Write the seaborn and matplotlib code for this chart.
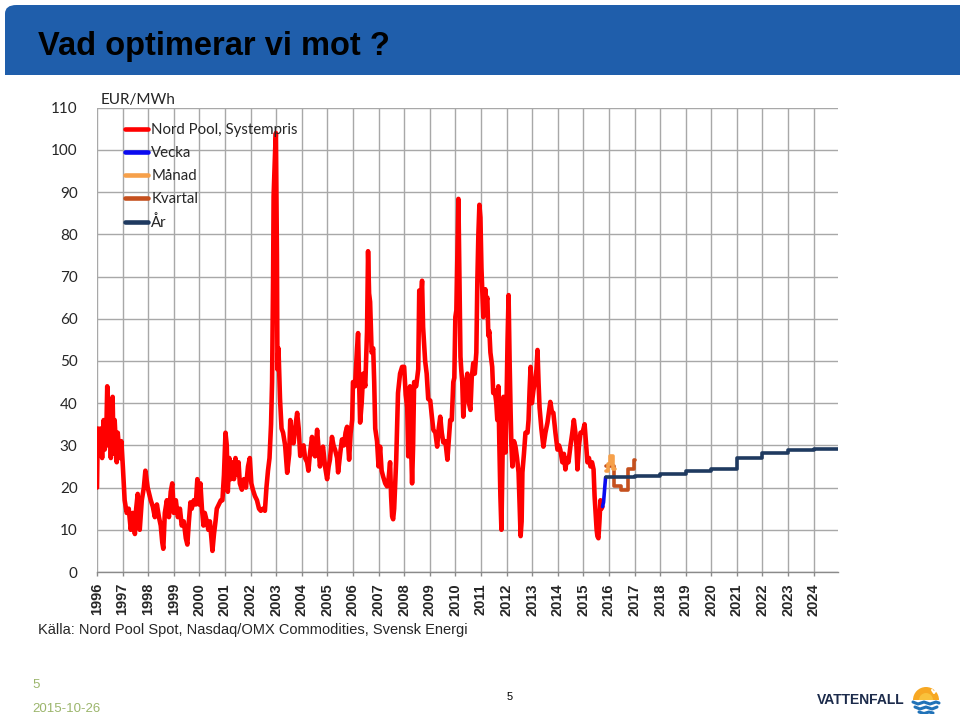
import matplotlib
matplotlib.use("Agg")
import matplotlib.pyplot as plt
import seaborn as sns
from matplotlib.patches import FancyBboxPatch, Rectangle, Wedge
from matplotlib.lines import Line2D

# Nord Pool system price (EUR/MWh)
spot_year = [
    1996.00, 1996.03, 1996.10, 1996.14, 1996.20, 1996.26, 1996.30, 1996.36, 1996.40, 1996.44,
    1996.50, 1996.54, 1996.61, 1996.65, 1996.69, 1996.77, 1996.81, 1996.89, 1996.95, 1997.01,
    1997.08, 1997.16, 1997.24, 1997.32, 1997.40, 1997.48, 1997.53, 1997.59, 1997.67, 1997.75,
    1997.83, 1997.89, 1997.98, 1998.10, 1998.18, 1998.26, 1998.34, 1998.42, 1998.49, 1998.55,
    1998.59, 1998.65, 1998.73, 1998.81, 1998.88, 1998.94, 1999.00, 1999.08, 1999.16, 1999.24,
    1999.31, 1999.39, 1999.47, 1999.53, 1999.59, 1999.65, 1999.70, 1999.78, 1999.86, 1999.92,
    1999.98, 2000.04, 2000.10, 2000.16, 2000.21, 2000.29, 2000.35, 2000.41, 2000.47, 2000.51,
    2000.57, 2000.63, 2000.68, 2000.76, 2000.84, 2000.90, 2000.96, 2001.02, 2001.07, 2001.11,
    2001.17, 2001.23, 2001.29, 2001.35, 2001.41, 2001.47, 2001.53, 2001.58, 2001.66, 2001.74,
    2001.82, 2001.90, 2001.97, 2002.03, 2002.09, 2002.17, 2002.25, 2002.33, 2002.40, 2002.48,
    2002.56, 2002.62, 2002.68, 2002.74, 2002.80, 2002.84, 2002.88, 2002.90, 2002.96, 2002.99,
    2003.03, 2003.05, 2003.09, 2003.15, 2003.21, 2003.27, 2003.35, 2003.43, 2003.51, 2003.55,
    2003.63, 2003.68, 2003.74, 2003.82, 2003.88, 2003.94, 2004.02, 2004.07, 2004.13, 2004.21,
    2004.26, 2004.32, 2004.40, 2004.46, 2004.52, 2004.60, 2004.66, 2004.71, 2004.77, 2004.83,
    2004.91, 2004.99, 2005.05, 2005.10, 2005.18, 2005.24, 2005.30, 2005.38, 2005.42, 2005.50,
    2005.57, 2005.65, 2005.71, 2005.77, 2005.85, 2005.91, 2005.97, 2006.00, 2006.08, 2006.16,
    2006.20, 2006.24, 2006.28, 2006.34, 2006.40, 2006.48, 2006.55, 2006.59, 2006.63, 2006.67,
    2006.73, 2006.79, 2006.83, 2006.87, 2006.94, 2007.00, 2007.06, 2007.12, 2007.18, 2007.26,
    2007.33, 2007.39, 2007.45, 2007.49, 2007.53, 2007.57, 2007.61, 2007.69, 2007.76, 2007.84,
    2007.92, 2008.00, 2008.06, 2008.12, 2008.16, 2008.20, 2008.23, 2008.27, 2008.31, 2008.35,
    2008.39, 2008.47, 2008.55, 2008.59, 2008.65, 2008.70, 2008.74, 2008.82, 2008.88, 2008.94,
    2009.02, 2009.08, 2009.14, 2009.22, 2009.29, 2009.35, 2009.41, 2009.47, 2009.53, 2009.61,
    2009.69, 2009.74, 2009.80, 2009.86, 2009.92, 2009.96, 2010.00, 2010.04, 2010.08, 2010.12,
    2010.16, 2010.20, 2010.23, 2010.27, 2010.31, 2010.39, 2010.47, 2010.53, 2010.59, 2010.64,
    2010.70, 2010.76, 2010.82, 2010.86, 2010.90, 2010.94, 2010.98, 2011.02, 2011.05, 2011.09,
    2011.13, 2011.17, 2011.21, 2011.25, 2011.29, 2011.33, 2011.37, 2011.41, 2011.44, 2011.48,
    2011.54, 2011.60, 2011.64, 2011.68, 2011.72, 2011.76, 2011.80, 2011.84, 2011.88, 2011.92,
    2011.96, 2012.00, 2012.04, 2012.08, 2012.12, 2012.16, 2012.19, 2012.23, 2012.29, 2012.35,
    2012.41, 2012.47, 2012.51, 2012.55, 2012.59, 2012.62, 2012.68, 2012.74, 2012.82, 2012.86,
    2012.90, 2012.94, 2012.99, 2013.05, 2013.13, 2013.17, 2013.21, 2013.25, 2013.29, 2013.36,
    2013.44, 2013.52, 2013.60, 2013.66, 2013.71, 2013.77, 2013.83, 2013.91, 2013.99, 2014.05,
    2014.10, 2014.18, 2014.24, 2014.30, 2014.36, 2014.42, 2014.50, 2014.57, 2014.63, 2014.69,
    2014.73, 2014.77, 2014.83, 2014.89, 2014.97, 2015.05, 2015.11, 2015.16, 2015.22, 2015.28,
    2015.34, 2015.40, 2015.44, 2015.48, 2015.52, 2015.55, 2015.59, 2015.63, 2015.67, 2015.71,
    2015.75,
]
spot_price = [
    20, 34, 28, 34, 27, 36, 29, 32, 44, 30,
    35, 27, 41.5, 28, 36, 26, 33, 27, 31, 25,
    17, 14, 15, 10, 14, 9, 15, 18.5, 10, 17,
    20, 24, 20, 17, 15.5, 13, 16, 13, 11, 7,
    5.5, 14, 17, 13, 19, 21, 14, 17, 13, 15,
    11, 12, 8, 6.5, 12, 16.5, 15, 17, 16, 22,
    16, 21, 15, 11, 14, 12, 10, 12, 8, 5,
    9, 12, 15, 16, 17, 17, 23, 33, 30, 19,
    27, 22, 26, 22, 27, 23, 26, 21, 19.5, 22,
    20, 25, 27, 21, 19.5, 18, 17, 15, 14.5, 15,
    14.5, 20, 24, 27, 35, 45, 70, 89, 100, 104,
    75, 48, 53, 41, 34, 33, 30, 23.5, 28, 36,
    31, 30.5, 34, 37.7, 34, 27.5, 29, 30, 27, 26,
    24, 28, 32, 28, 27.4, 33.7, 29, 25, 28, 29.7,
    25, 22, 25, 26.6, 32, 30, 29, 27, 23.6, 28,
    31.4, 30, 33, 34.4, 26.6, 33, 36, 45, 44, 53,
    56.6, 45, 35.4, 40, 47, 44, 57, 76, 66, 64,
    52, 53, 45, 34, 31, 25, 29.7, 24, 22.6, 21,
    20.3, 22, 26, 18, 13.2, 12.5, 15, 26.6, 42.4, 47,
    48.6, 48.6, 42, 39, 27.4, 35, 44, 30, 21, 30,
    45, 44, 48, 66.7, 64, 69, 58, 50, 47, 41,
    40.6, 37, 33.7, 33, 29.7, 34, 36.8, 33, 30.7, 31,
    26.6, 31, 36, 36, 45, 46, 60.4, 62, 75, 88.4,
    70, 51, 48, 45, 36.8, 44, 47, 40, 38.4, 46,
    49.5, 47, 52, 69, 80, 87, 84, 72, 66.7, 60.4,
    64, 67, 64, 65, 56, 57, 52, 50, 48.6, 42.4,
    43, 40, 36, 44, 30, 18, 10, 25, 41.5, 35,
    28.3, 40, 55, 65.6, 50, 37.7, 30, 25, 31, 29.7,
    27, 23.6, 16, 8.5, 12, 23.6, 28, 33, 33, 36,
    43, 48.6, 40, 43, 46, 48, 52.6, 45, 39, 34,
    29.7, 33, 35.4, 38, 40.3, 38, 37.7, 33, 29, 30,
    29, 26, 28, 24.3, 27, 26, 30, 33, 36, 33,
    30, 24.3, 30, 33, 33, 35, 30, 26, 27, 25,
    26, 24.3, 18, 14, 10, 8.5, 8, 12, 17, 15,
    15.5,
]

# forward prices (Nasdaq/OMX)
week_year = [2015.75, 2015.79, 2015.83, 2015.87]
week_price = [15.5, 16.5, 19.5, 22.4]

month_year = [2015.87, 2015.95, 2016.05, 2016.15]
month_price = [24.0, 25.5, 27.5, 24.5]
month_end = 2016.22

quarter_year = [2015.87, 2016.18, 2016.46, 2016.73, 2016.98]
quarter_price = [25.0, 20.4, 19.4, 24.3, 26.5]
quarter_end = 2017.0

year_start = [2015.87, 2017, 2018, 2019, 2020, 2021, 2022, 2023, 2024]
year_price = [22.4, 22.8, 23.3, 23.9, 24.5, 27.1, 28.2, 28.8, 29.1]
year_end = 2025

x_ticks = list(range(1996, 2025))
y_ticks = list(range(0, 111, 10))

sns.set_theme(style="white")
plt.rcParams['font.family'] = ['Liberation Sans', 'DejaVu Sans']

fig = plt.figure(figsize=(9.6, 7.14), dpi=100)
W, H = 960, 714

# blue title band
band = FancyBboxPatch((5 / W, 1 - 75 / H), 1.1, 70 / H, boxstyle="round,pad=0,rounding_size=0.012",
                      transform=fig.transFigure, facecolor="#1F5EAB", edgecolor="none")
fig.patches.append(band)
fig.patches.append(Rectangle((5 / W, 1 - 75 / H), 1.1, 30 / H, transform=fig.transFigure,
                             facecolor="#1F5EAB", edgecolor="none"))
fig.text(38 / W, 1 - 47 / H, "Vad optimerar vi mot ?", fontsize=23.5, fontweight="bold",
         color="black", va="center", ha="left")

ax = fig.add_axes([97 / W, 1 - 572 / H, (838 - 97) / W, (572 - 107.7) / H])

red = "#FF0000"
sns.lineplot(x=spot_year, y=spot_price, color=red, lw=3.3, ax=ax, estimator=None, sort=False)
sns.lineplot(x=week_year, y=week_price, color="#0A0AF0", lw=2.6, ax=ax, estimator=None, sort=False)
sns.lineplot(x=quarter_year + [quarter_end], y=quarter_price + quarter_price[-1:], color="#C5501E",
             lw=2.6, ax=ax, estimator=None, sort=False, drawstyle="steps-post")
sns.lineplot(x=month_year + [month_end], y=month_price + month_price[-1:], color="#F6A04A",
             lw=2.6, ax=ax, estimator=None, sort=False, drawstyle="steps-post")
sns.lineplot(x=year_start + [year_end], y=year_price + year_price[-1:], color="#1F3A60",
             lw=2.6, ax=ax, estimator=None, sort=False, drawstyle="steps-post")

ax.set_xlim(1996, 2024.95)
ax.set_ylim(0, 110)
ax.set_xticks(x_ticks)
ax.set_yticks(y_ticks)
ax.set_xticklabels([str(y) for y in x_ticks], rotation=90, fontsize=10.5, fontweight="bold")
ax.set_yticklabels([str(v) for v in y_ticks], fontsize=11, family=["Lato", "DejaVu Sans"])
ax.grid(True, color="#A8A8A8", lw=1)
ax.set_axisbelow(True)
for s in ["top", "right", "left"]:
    ax.spines[s].set_visible(False)
ax.spines["bottom"].set_color("#8A8A8A")
ax.spines["bottom"].set_linewidth(1)
ax.tick_params(axis="x", direction="out", length=3, width=1, color="#8A8A8A", pad=5, bottom=True)
ax.tick_params(axis="y", length=0, pad=14)
ax.set_xlabel("")
ax.set_ylabel("")

fig.text(101 / W, 1 - 100 / H, "EUR/MWh", fontsize=11, va="center", ha="left",
         family=["Lato", "DejaVu Sans"])

labels = ["Nord Pool, Systempris", "Vecka", "Månad", "Kvartal", "År"]
colors = [red, "#0A0AF0", "#F6A04A", "#C5501E", "#1F3A60"]
handles = [Line2D([0], [0], color=c, lw=3.3) for c in colors]
fig.legend(handles, labels, loc="upper left", bbox_to_anchor=(125 / W, 1 - 123 / H),
           frameon=False, handlelength=1.5, handletextpad=0.25, labelspacing=0.6,
           borderpad=0, borderaxespad=0, prop={"family": ["Lato", "DejaVu Sans"], "size": 10.8})

fig.text(38 / W, 1 - 630 / H, "Källa: Nord Pool Spot, Nasdaq/OMX Commodities, Svensk Energi",
         fontsize=10.5, va="center", ha="left")

# footer
fig.text(32 / W, 1 - 685 / H, "5", fontsize=9.5, color="#9BB56B", va="center", ha="left")
fig.text(32 / W, 1 - 709 / H, "2015-10-26", fontsize=9.5, color="#9BB56B", va="center", ha="left")
fig.text(510 / W, 1 - 697 / H, "5", fontsize=8, color="black", va="center", ha="center")
fig.text(817 / W, 1 - 700 / H, "VATTENFALL", fontsize=10, fontweight="bold", color="#1C2B4B",
         va="center", ha="left")

# simple sun logo
logo = fig.add_axes([908 / W, 0, 36 / W, 32 / H])
logo.set_xlim(0, 36)
logo.set_ylim(0, 32)
logo.axis("off")
logo.add_patch(Wedge((18, 14), 13, 0, 180, facecolor="#F7A823", edgecolor="none"))
logo.add_patch(Wedge((18, 14), 7, 0, 180, facecolor="#F9C23C", edgecolor="none"))
logo.plot([24, 26, 28], [24, 21, 24], color="white", lw=1.5)
logo.plot([5, 10, 16, 22, 28, 31], [12, 10, 12, 10, 12, 11], color="#2072B8", lw=2.2)
logo.plot([7, 12, 18, 24, 29], [7, 5, 7, 5, 7], color="#2072B8", lw=2.2)
logo.plot([11, 16, 21, 25], [2, 0.5, 2, 1], color="#2072B8", lw=2.2)

fig.savefig("out.png", dpi=100)
